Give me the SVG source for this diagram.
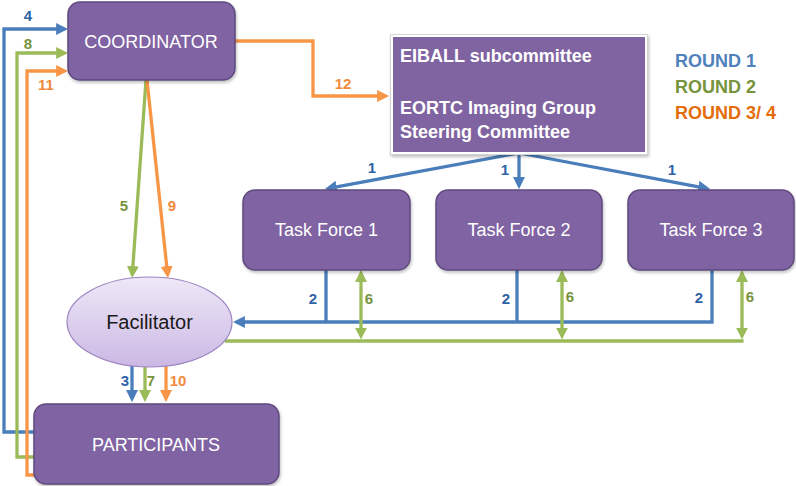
<svg xmlns="http://www.w3.org/2000/svg" width="796" height="486" viewBox="0 0 796 486">
<defs>
<style>
.box{fill:#8064A2;stroke:#5D4A7E;stroke-width:1.5;filter:url(#sh)}
.lbl{font-family:"Liberation Sans",Arial,sans-serif;font-size:18px;fill:#ffffff;text-anchor:middle}
.bold{font-family:"Liberation Sans",Arial,sans-serif;font-weight:bold;font-size:18px;fill:#ffffff}
.num{font-family:"Liberation Sans",Arial,sans-serif;font-weight:bold;font-size:15px;text-anchor:middle}
.nb{fill:#2E62A6}.ng{fill:#77933C}.no{fill:#F08A3C}
.e{fill:none;stroke-width:3.3;stroke-linejoin:miter}
.b{stroke:#4A7EBB}.g{stroke:#9BBB59}.o{stroke:#F79646}
</style>
<filter id="sh" x="-10%" y="-10%" width="130%" height="140%">
<feDropShadow dx="1" dy="2" stdDeviation="1.5" flood-color="#000" flood-opacity="0.25"/>
</filter>
<linearGradient id="eg" x1="0" y1="0" x2="0" y2="1">
<stop offset="0" stop-color="#EEE8F7"/>
<stop offset="1" stop-color="#CBB8E4"/>
</linearGradient>
<marker id="ab" viewBox="0 0 10 10" refX="7" refY="5" markerUnits="userSpaceOnUse" markerWidth="12" markerHeight="12" orient="auto-start-reverse"><path d="M0,0 L10,5 L0,10 z" fill="#4A7EBB"/></marker>
<marker id="ag" viewBox="0 0 10 10" refX="7" refY="5" markerUnits="userSpaceOnUse" markerWidth="12" markerHeight="12" orient="auto-start-reverse"><path d="M0,0 L10,5 L0,10 z" fill="#9BBB59"/></marker>
<marker id="ao" viewBox="0 0 10 10" refX="7" refY="5" markerUnits="userSpaceOnUse" markerWidth="12" markerHeight="12" orient="auto-start-reverse"><path d="M0,0 L10,5 L0,10 z" fill="#F79646"/></marker>
</defs>
<rect width="796" height="486" fill="#ffffff"/>

<g id="connectors">
<path class="e b" d="M35,432 L4,432 L4,29 L64.5,29" marker-end="url(#ab)"/>
<path class="e g" d="M35,457 L17,457 L17,53 L64.5,53" marker-end="url(#ag)"/>
<path class="e o" d="M35,475 L27,475 L27,71 L64.5,71" marker-end="url(#ao)"/>
<path class="e o" d="M235,41 L313,41 L313,96 L385.5,96" marker-end="url(#ao)"/>
<path class="e g" d="M146,80 L132.3,274.5" marker-end="url(#ag)"/>
<path class="e o" d="M147,80 L167.6,274.5" marker-end="url(#ao)"/>
<path class="e b" d="M519,153 L328.4,188.3" marker-end="url(#ab)"/>
<path class="e b" d="M519,153 L519,185.5" marker-end="url(#ab)"/>
<path class="e b" d="M519,153 L706.6,188.3" marker-end="url(#ab)"/>
<path class="e b" d="M326,270 L326,322"/>
<path class="e b" d="M517,270 L517,322"/>
<path class="e b" d="M712,270 L712,322 L236.5,322" marker-end="url(#ab)"/>
<path class="e g" d="M225,341 L743.6,341"/>
<path class="e g" d="M361,273.5 L361,336" marker-start="url(#ag)" marker-end="url(#ag)"/>
<path class="e g" d="M562,273.5 L562,336" marker-start="url(#ag)" marker-end="url(#ag)"/>
<path class="e g" d="M742,273.5 L742,336" marker-start="url(#ag)" marker-end="url(#ag)"/>
<path class="e b" d="M132,366 L132,398.5" marker-end="url(#ab)"/>
<path class="e g" d="M145,366 L145,398.5" marker-end="url(#ag)"/>
<path class="e o" d="M166,366 L166,398.5" marker-end="url(#ao)"/>
</g>

<g id="connector-labels">
<text class="num nb" x="28" y="21">4</text>
<text class="num ng" x="28" y="49">8</text>
<text class="num no" x="46" y="90">11</text>
<text class="num no" x="343" y="89">12</text>
<text class="num ng" x="124" y="211">5</text>
<text class="num no" x="172" y="211">9</text>
<text class="num nb" x="372" y="173">1</text>
<text class="num nb" x="505" y="175">1</text>
<text class="num nb" x="672" y="175">1</text>
<text class="num nb" x="313" y="304">2</text>
<text class="num nb" x="506" y="304">2</text>
<text class="num nb" x="699" y="303">2</text>
<text class="num ng" x="369" y="304">6</text>
<text class="num ng" x="570" y="302">6</text>
<text class="num ng" x="750" y="302">6</text>
<text class="num nb" x="125" y="386">3</text>
<text class="num ng" x="151" y="386">7</text>
<text class="num no" x="178" y="386">10</text>
</g>

<g id="coordinator">
<rect class="box" x="68" y="2" width="167" height="78" rx="12"/>
<text class="lbl" x="151" y="48">COORDINATOR</text>
</g>

<g id="eiball">
<rect x="390.5" y="34.5" width="257" height="120" fill="#ffffff" stroke="#d4d4d4" stroke-width="1" filter="url(#sh)"/>
<rect x="393" y="37" width="252" height="115" fill="#8064A2"/>
<text class="bold" x="400" y="62">EIBALL subcommittee</text>
<text class="bold" x="400" y="114">EORTC Imaging Group</text>
<text class="bold" x="400" y="138">Steering Committee</text>
</g>

<g id="legend">
<text class="bold" x="675" y="67" style="fill:#4F81BD">ROUND 1</text>
<text class="bold" x="675" y="93" style="fill:#77933C">ROUND 2</text>
<text class="bold" x="675" y="119" style="fill:#E46C0A">ROUND 3/ 4</text>
</g>

<g id="tf1">
<rect class="box" x="243" y="190" width="167" height="80" rx="12"/>
<text class="lbl" x="326.5" y="236">Task Force 1</text>
</g>
<g id="tf2">
<rect class="box" x="436" y="190" width="166" height="80" rx="12"/>
<text class="lbl" x="519" y="236">Task Force 2</text>
</g>
<g id="tf3">
<rect class="box" x="628" y="190" width="166" height="80" rx="12"/>
<text class="lbl" x="711" y="236">Task Force 3</text>
</g>

<g id="facilitator">
<ellipse cx="149.5" cy="322" rx="82.5" ry="45" fill="url(#eg)" stroke="#9C84C2" stroke-width="1.2"/>
<text x="149.5" y="329" font-family="'Liberation Sans',Arial,sans-serif" font-size="20" fill="#1a1a1a" text-anchor="middle">Facilitator</text>
</g>

<g id="participants">
<rect class="box" x="34" y="404" width="245" height="80" rx="12"/>
<text class="lbl" x="156" y="451">PARTICIPANTS</text>
</g>
</svg>
